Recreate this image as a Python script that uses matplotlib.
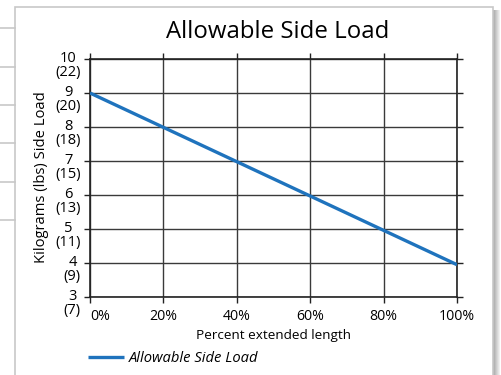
import matplotlib
matplotlib.use("Agg")
import matplotlib.pyplot as plt
from matplotlib.patches import Rectangle
from matplotlib.lines import Line2D

plt.rcParams["font.family"] = ["Open Sans", "DejaVu Sans"]

# 数据
pct_extended = [0, 20, 40, 60, 80, 100]
side_load_kg = [9.0, 7.99, 6.98, 5.97, 4.96, 3.95]
kg_ticks = [3, 4, 5, 6, 7, 8, 9, 10]
lbs_ticks = [7, 9, 11, 13, 15, 18, 20, 22]
x_ticks = [0, 20, 40, 60, 80, 100]
x_tick_labels = ["0%", "20%", "40%", "60%", "80%", "100%"]

W, H = 501, 375
fig = plt.figure(figsize=(W / 100, H / 100), dpi=100)
fig.patch.set_facecolor("white")

# 背景：面板、阴影和左侧的灰线
bg = fig.add_axes([0, 0, 1, 1], zorder=0)
bg.set_xlim(0, W)
bg.set_ylim(H, 0)
bg.axis("off")
for yy in [28, 67, 105, 143, 182, 220]:
    bg.add_line(Line2D([0, 15], [yy, yy], color="#c8c8c8", lw=1.2))
shadow_cols = ["#a8a8a8", "#b4b4b4", "#c0c0c0", "#cccccc", "#d8d8d8", "#e4e4e4", "#f0f0f0"]
for i, c in enumerate(shadow_cols):
    bg.add_patch(Rectangle((493 + i, 10), 1, H, facecolor=c, edgecolor="none"))
bg.add_patch(Rectangle((15, 7), 478, H, facecolor="white", edgecolor="#c8c8c8", lw=1.2))

# 主图
ax = fig.add_axes([90 / W, 1 - 297 / H, (457 - 90) / W, (297 - 59) / H], zorder=1)
ax.set_facecolor("none")
line, = ax.plot(pct_extended, side_load_kg, color="#1f73bd", lw=2.4,
                solid_capstyle="butt", label="Allowable Side Load", zorder=3)
ax.set_xlim(0, 100)
ax.set_ylim(3, 10)
ax.set_xticks(x_ticks)
ax.set_xticklabels(x_tick_labels, fontsize=10.2)
ax.get_xticklabels()[0].set_horizontalalignment("left")
ax.set_yticks(kg_ticks)
ax.set_yticklabels([])
ax.grid(True, color="#3a3a3a", lw=1)
for s in ax.spines.values():
    s.set_color("#222222")
    s.set_linewidth(1.2)
ax.tick_params(direction="out", length=4, width=1, color="#222222",
               top=True, right=True, pad=5)

for kg, lb in zip(kg_ticks, lbs_ticks):
    ax.annotate(f"{kg}\n({lb})", xy=(0, kg), xycoords=("axes fraction", "data"),
                xytext=(-6.5, -4.5), textcoords="offset points",
                ha="right", va="center", multialignment="center",
                fontsize=10.5, linespacing=0.88)

fig.text(278 / W, 1 - 32 / H, "Allowable Side Load", ha="center", va="center", fontsize=17.3)
fig.text(273.5 / W, 1 - 335 / H, "Percent extended length", ha="center", va="center", fontsize=9.7)
fig.text(42 / W, 1 - 177 / H, "Kilograms (lbs) Side Load", ha="center", va="center",
         rotation=90, fontsize=10.6)

ax.legend(handles=[line], loc="center left", bbox_to_anchor=(88 / W, 1 - 359 / H),
          bbox_transform=fig.transFigure, frameon=False, borderpad=0, borderaxespad=0,
          handlelength=2.45, handletextpad=0.35, prop={"style": "italic", "size": 10.6})

fig.savefig("out.png", dpi=100)
